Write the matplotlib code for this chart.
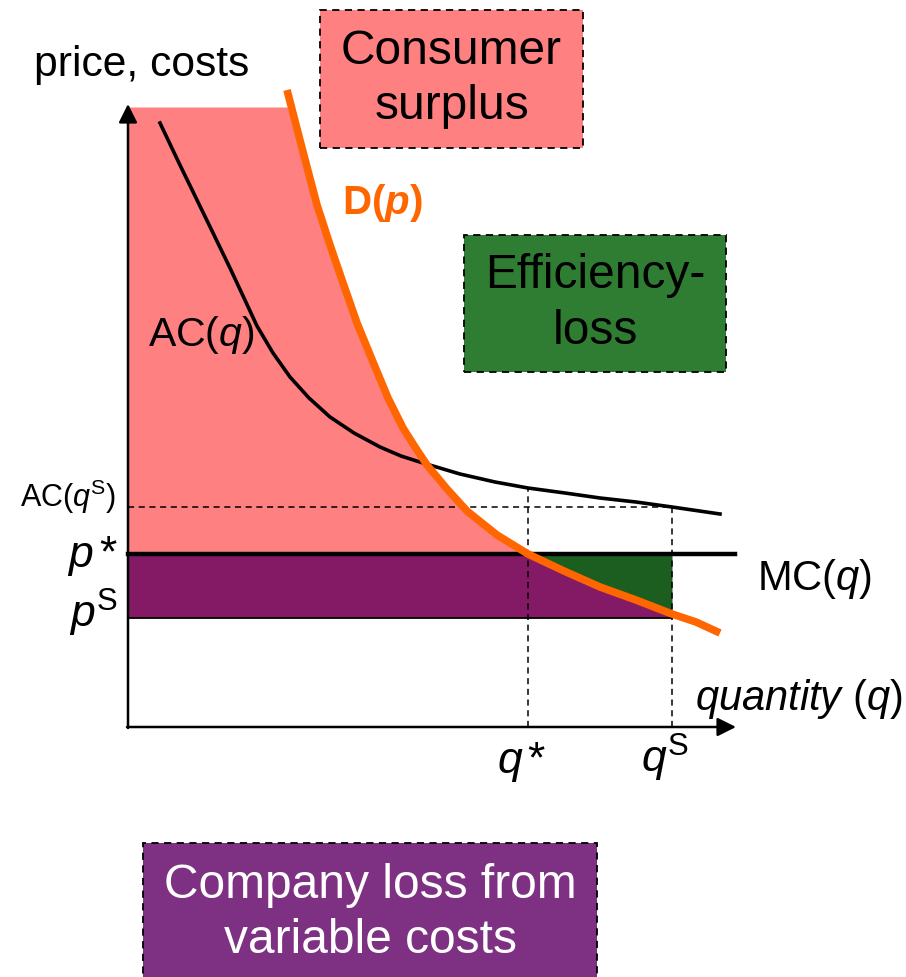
import matplotlib.pyplot as plt
import numpy as np
from matplotlib.patches import Rectangle

plt.rcParams['font.family'] = ['Liberation Sans', 'DejaVu Sans']
plt.rcParams['mathtext.fontset'] = 'custom'
plt.rcParams['mathtext.rm'] = 'Liberation Sans'
plt.rcParams['mathtext.it'] = 'Liberation Sans:italic'
plt.rcParams['mathtext.bf'] = 'Liberation Sans:bold'
plt.rcParams['mathtext.bfit'] = 'Liberation Sans:italic:bold'

# demand curve D(p): quantity vs price
demand_q = [1.59, 1.74, 1.89, 2.02, 2.14, 2.29, 2.45, 2.60, 2.75, 2.87, 2.99,
            3.19, 3.39, 3.69, 4.00, 4.36, 4.72, 5.08, 5.44, 5.68, 5.92]
demand_p = [6.37, 5.79, 5.22, 4.82, 4.47, 4.04, 3.65, 3.29, 2.99, 2.80, 2.62,
            2.38, 2.16, 1.92, 1.73, 1.56, 1.40, 1.27, 1.13, 1.05, 0.94]

# average cost curve AC(q)
ac_q = [0.32, 0.51, 0.69, 0.86, 1.02, 1.16, 1.29, 1.45, 1.62, 1.81, 2.02, 2.26,
        2.52, 2.73, 2.95, 3.32, 3.67, 4.00, 4.37, 4.72, 5.08, 5.44, 5.92]
ac_p = [6.04, 5.64, 5.27, 4.92, 4.59, 4.29, 4.01, 3.74, 3.50, 3.29, 3.10, 2.94,
        2.80, 2.71, 2.64, 2.53, 2.45, 2.39, 2.34, 2.29, 2.25, 2.20, 2.13]

q_star = 4.00
q_s = 5.44
p_star = 1.73
p_s = 1.09
ac_qs = 2.20
p_top = 6.20
mc_end = 6.07

PINK = '#FF8080'
PURPLE = '#841A66'
PURPLE_BOX = '#7E3183'
GREEN = '#1B5E1F'
GREEN_BOX = '#2E7D32'
ORANGE = '#FF6600'

dq = np.array(demand_q)
dp = np.array(demand_p)

fig = plt.figure(figsize=(9.06, 9.77), dpi=100)
ax = fig.add_axes([0, 0, 1, 1])
ax.set_xlim(-1.28, 7.78)
ax.set_ylim(-2.50, 7.27)
ax.axis('off')

# consumer surplus (pink)
left = dq <= q_star
xs = np.concatenate([[0], dq[left]])
ys = np.minimum(np.concatenate([[p_top], dp[left]]), p_top)
ax.fill_between(xs, p_star, ys, color=PINK, lw=0, zorder=1)

# company loss from variable costs (purple)
ax.add_patch(Rectangle((0, p_s), q_s, p_star - p_s, facecolor=PURPLE,
                       edgecolor='none', zorder=1))
ax.plot([0, q_s], [p_s, p_s], color='black', lw=1.3, zorder=2)

# efficiency loss (green)
mid = (dq >= q_star) & (dq <= q_s)
ax.fill_between(dq[mid], dp[mid], p_star, color=GREEN, lw=0, zorder=1)

# dashed guides
dash = dict(color='black', lw=1.1, ls=(0, (4, 3)), zorder=3)
ax.plot([0, q_s], [ac_qs, ac_qs], **dash)
ax.plot([q_star, q_star], [0, np.interp(q_star, ac_q, ac_p)], **dash)
ax.plot([q_s, q_s], [0, ac_qs], **dash)

# curves
ax.plot(ac_q, ac_p, color='black', lw=2.6, solid_joinstyle='round', zorder=4)
ax.plot([0, mc_end], [p_star, p_star], color='black', lw=3.2, zorder=4)
ax.plot(demand_q, demand_p, color=ORANGE, lw=5.5, solid_capstyle='butt',
        solid_joinstyle='round', zorder=5)

# axes with arrows
arrow = dict(arrowstyle='-|>', color='black', lw=1.8, mutation_scale=28,
             shrinkA=0, shrinkB=0)
ax.annotate('', xy=(0, 6.23), xytext=(0, -0.01), arrowprops=arrow, zorder=6)
ax.annotate('', xy=(6.08, 0), xytext=(-0.01, 0), arrowprops=arrow, zorder=6)

# labels
ax.text(0.14, 6.62, 'price, costs', fontsize=30.7, ha='center', va='center')
ax.text(2.54, 5.24, r'$\mathbf{D(}\mathbfit{p}\mathbf{)}$', fontsize=29,
        color=ORANGE, ha='center', va='center')
ax.text(0.20, 3.92, r'AC($q$)', fontsize=29.5, ha='left', va='center', zorder=7)
ax.text(-0.12, 2.30, r'AC($q^{\mathrm{S}}$)', fontsize=22, ha='right', va='center')
ax.text(-0.10, 1.60, r'$p\,$*', fontsize=32, ha='right', va='baseline')
ax.text(-0.10, 0.99, r'$p^{\mathrm{S}}$', fontsize=32, ha='right', va='baseline')
ax.text(6.29, 1.37, r'MC($q$)', fontsize=30, ha='left', va='baseline')
ax.text(5.67, 0.17, r'$\mathit{quantity}$ ($q$)', fontsize=30, ha='left', va='baseline')
ax.text(3.94, -0.46, r'$q\,$*', fontsize=32, ha='center', va='baseline')
ax.text(5.37, -0.46, r'$q^{\mathrm{S}}$', fontsize=32, ha='center', va='baseline')

# boxed notes
boxes = [
    ((1.92, 5.79), 2.63, 1.38, PINK, 'Consumer\nsurplus', 'black'),
    ((3.36, 3.55), 2.62, 1.37, GREEN_BOX, 'Efficiency-\nloss', 'black'),
    ((0.15, -2.60), 4.54, 1.44, PURPLE_BOX, 'Company loss from\nvariable costs', 'white'),
]
for (x0, y0), w, h, fc, label, tc in boxes:
    ax.add_patch(Rectangle((x0, y0), w, h, facecolor=fc, edgecolor='black',
                           lw=1.3, ls=(0, (4, 3)), zorder=6, clip_on=False))
    cy = y0 + h / 2 if y0 > 0 else -1.86
    ax.text(x0 + w / 2, cy, label, fontsize=34.5, color=tc, ha='center',
            va='center', linespacing=1.3, zorder=7)

fig.savefig('out.png', dpi=100)
